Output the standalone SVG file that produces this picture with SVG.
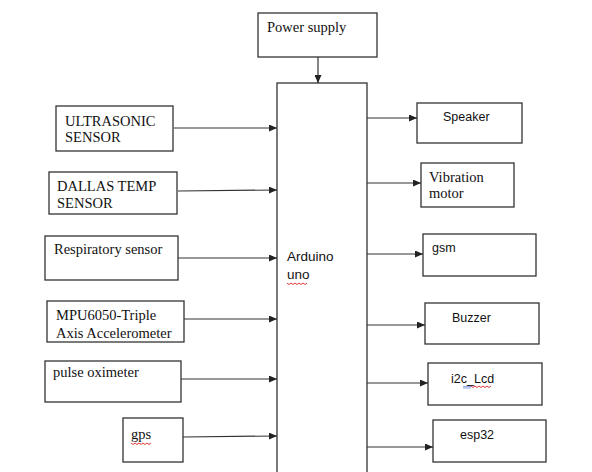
<svg xmlns="http://www.w3.org/2000/svg" width="592" height="472" viewBox="0 0 592 472">
<defs>
<marker id="ah" viewBox="0 0 10 10" refX="10" refY="5" markerWidth="8" markerHeight="7" markerUnits="userSpaceOnUse" orient="auto" preserveAspectRatio="none">
<path d="M0,0 L10,5 L0,10 z" fill="#222"/>
</marker>
</defs>
<style>
.box{fill:#fff;stroke:#333;stroke-width:1.3}
.serif{font-family:"Liberation Serif","Times New Roman",serif;font-size:14.5px;fill:#111}
.sans{font-family:"Liberation Sans",Arial,sans-serif;font-size:12.5px;fill:#111}
.conn line{stroke:#333;stroke-width:1.2;marker-end:url(#ah)}
.sq{fill:none;stroke:#d22;stroke-width:0.9}
</style>
<rect width="592" height="472" fill="#fff"/>
<g id="power"><rect class="box" x="258" y="13" width="119" height="44"/><text class="serif" x="267" y="32">Power supply</text></g>
<g id="arduino"><rect class="box" x="277" y="83" width="90" height="400"/><text class="sans" x="287" y="261" style="font-size:13.5px">Arduino</text><text class="sans" x="287" y="279" style="font-size:13.5px">uno</text><path class="sq" d="M287,283 l2,1.5 l2,-1.5 l2,1.5 l2,-1.5 l2,1.5 l2,-1.5 l2,1.5 l2,-1.5 l2,1.5 l2,-1.5"/></g>
<g id="ultrasonic"><rect class="box" x="56" y="106" width="117" height="45"/><text class="serif" x="65" y="126">ULTRASONIC</text><text class="serif" x="65" y="142">SENSOR</text></g>
<g id="dallas"><rect class="box" x="49" y="172" width="128" height="42"/><text class="serif" x="57" y="191">DALLAS TEMP</text><text class="serif" x="57" y="208">SENSOR</text></g>
<g id="respiratory"><rect class="box" x="45" y="236" width="133" height="44"/><text class="serif" x="54" y="254">Respiratory sensor</text></g>
<g id="mpu"><rect class="box" x="47" y="301" width="137" height="41"/><text class="serif" x="56" y="320">MPU6050-Triple</text><text class="serif" x="56" y="338">Axis Accelerometer</text></g>
<g id="pulse"><rect class="box" x="45" y="361" width="136" height="41"/><text class="serif" x="53" y="377">pulse oximeter</text></g>
<g id="gps"><rect class="box" x="123" y="418" width="60" height="44"/><text class="serif" x="131" y="439">gps</text><path class="sq" d="M131,443 l2,1.5 l2,-1.5 l2,1.5 l2,-1.5 l2,1.5 l2,-1.5 l2,1.5 l2,-1.5 l2,1.5 l2,-1.5"/></g>
<g id="speaker"><rect class="box" x="417" y="103" width="105" height="40"/><text class="sans" x="443" y="121">Speaker</text></g>
<g id="vibration"><rect class="box" x="421" y="163" width="93" height="44"/><text class="serif" x="429" y="182">Vibration</text><text class="serif" x="429" y="198">motor</text></g>
<g id="gsm"><rect class="box" x="423" y="234" width="113" height="42"/><text class="sans" x="432" y="252">gsm</text></g>
<g id="buzzer"><rect class="box" x="425" y="303" width="114" height="41"/><text class="sans" x="452" y="322">Buzzer</text></g>
<g id="lcd"><rect class="box" x="428" y="363" width="114" height="42"/><text class="sans" x="451" y="383">i2c_Lcd</text><path d="M463,386.5 h8 M463,388 h8" stroke="#36c" stroke-width="0.6"/><path class="sq" d="M471,386 l2,1.5 l2,-1.5 l2,1.5 l2,-1.5 l2,1.5 l2,-1.5 l2,1.5 l2,-1.5 l2,1.5 l2,-1.5"/></g>
<g id="esp32"><rect class="box" x="433" y="420" width="113" height="42"/><text class="sans" x="460" y="439">esp32</text></g>
<g class="conn" id="connectors">
<line x1="318" y1="57" x2="318" y2="83"/>
<line x1="174" y1="128" x2="277" y2="128"/>
<line x1="178" y1="191" x2="277" y2="190"/>
<line x1="178" y1="258" x2="277" y2="258"/>
<line x1="184" y1="319" x2="277" y2="319"/>
<line x1="181" y1="379" x2="277" y2="379"/>
<line x1="183" y1="437" x2="277" y2="436"/>
<line x1="367" y1="118" x2="417" y2="118"/>
<line x1="367" y1="183" x2="421" y2="183"/>
<line x1="367" y1="254" x2="423" y2="254"/>
<line x1="367" y1="325" x2="425" y2="325"/>
<line x1="367" y1="383" x2="428" y2="383"/>
<line x1="367" y1="447" x2="433" y2="447"/>
</g>
</svg>
